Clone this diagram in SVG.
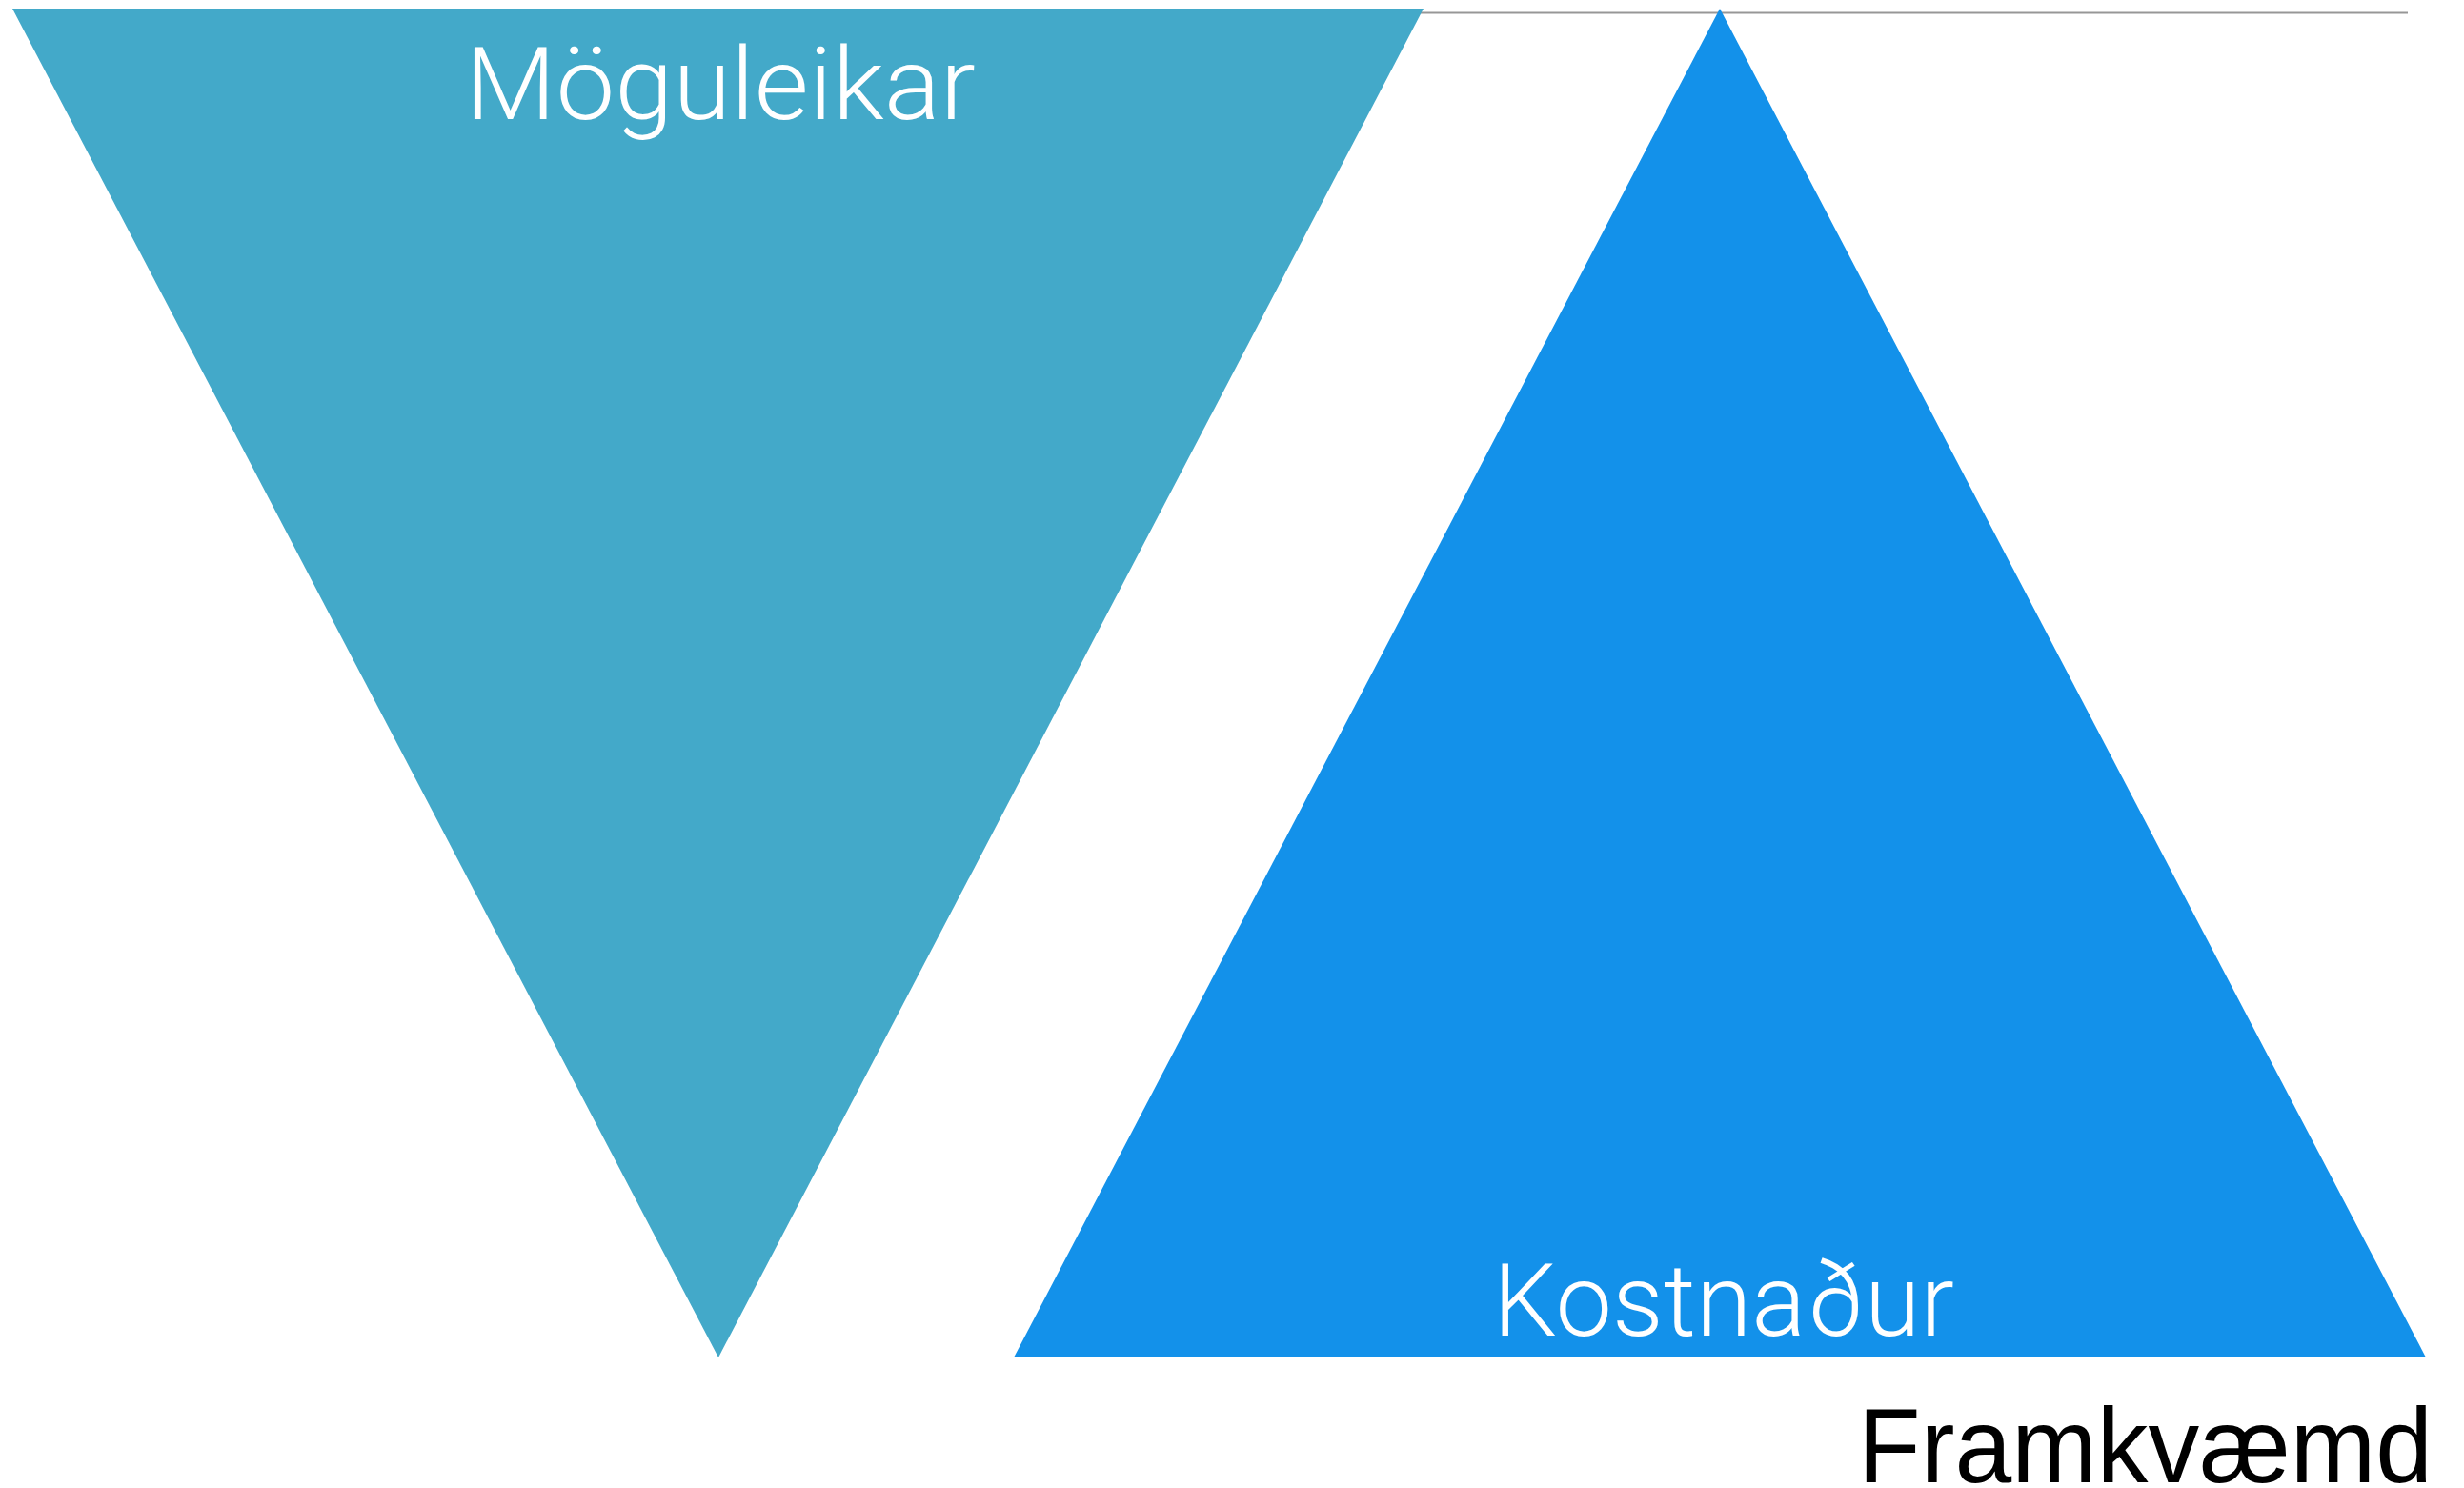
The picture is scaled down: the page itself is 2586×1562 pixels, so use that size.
<svg xmlns="http://www.w3.org/2000/svg" width="2586" height="1562" viewBox="0 0 2586 1562">
<style>
.lbl{font-family:"Roboto","Inter","Noto Sans",sans-serif;font-weight:300;font-size:106px;fill:#ffffff}
.axis{font-family:"Liberation Sans","Arial",sans-serif;font-size:111px;fill:#000000}
</style>
<rect x="0" y="0" width="2586" height="1562" fill="#ffffff"/>
<g id="connectors">
<line x1="1480" y1="13.5" x2="2527" y2="13.5" stroke="#979797" stroke-width="2.2"/>
</g>
<g id="moguleikar">
<polygon points="13,9 1494,9 754,1425" fill="#43A9C9"/>
<text class="lbl" x="488" y="124.5" textLength="536" lengthAdjust="spacingAndGlyphs">Möguleikar</text>
</g>
<g id="kostnadur">
<polygon points="1805,9 2546,1425 1064,1425" fill="#1391EA"/>
<text class="lbl" x="1567" y="1402" textLength="484" lengthAdjust="spacingAndGlyphs">Kostnaður</text>
</g>
<g id="framkvaemd">
<text class="axis" x="1950" y="1556" textLength="603" lengthAdjust="spacingAndGlyphs">Framkvæmd</text>
</g>
</svg>
